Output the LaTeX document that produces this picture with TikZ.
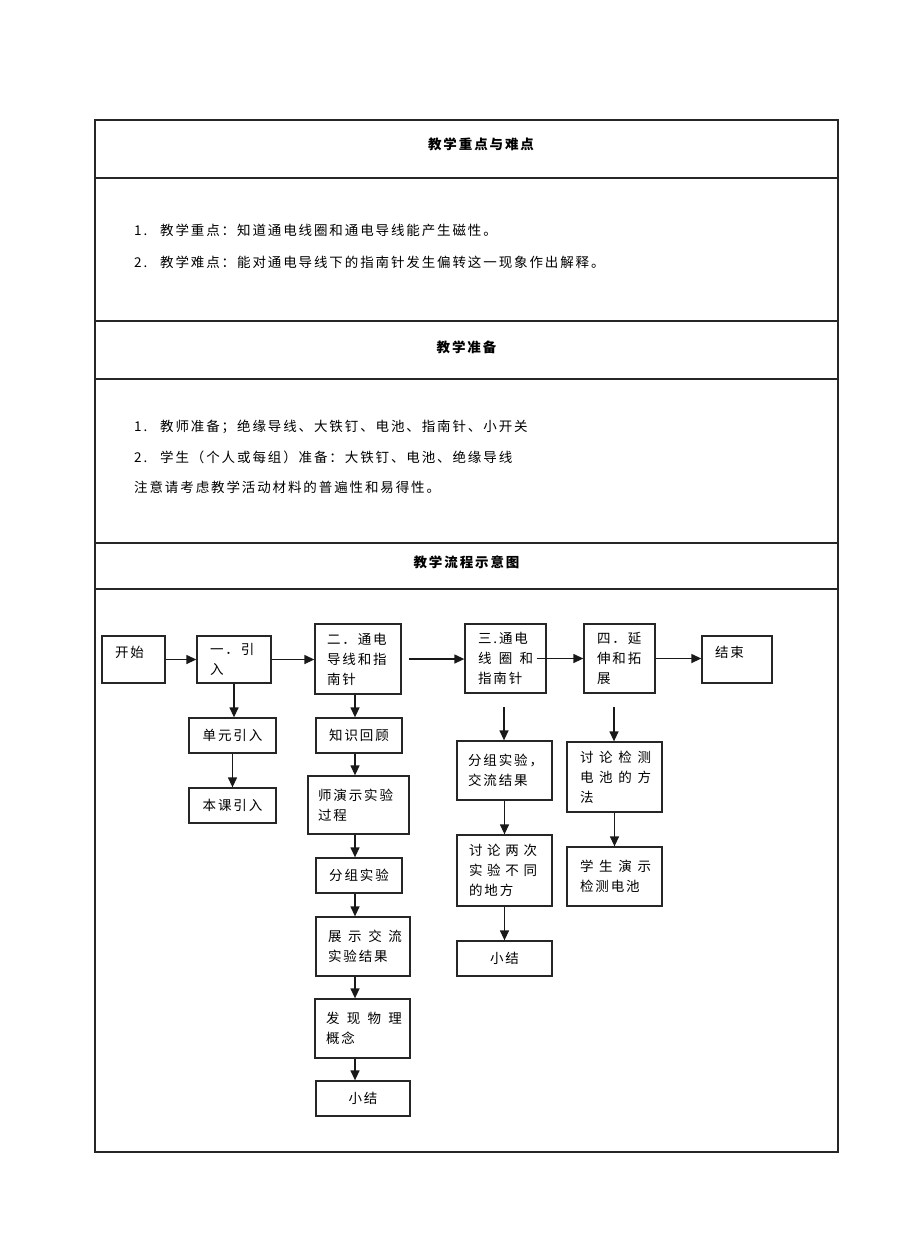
\documentclass[tikz,border=0pt]{standalone}
\usepackage{fontspec}
\newfontfamily\cjk{Noto Sans CJK SC}[LetterSpace=14]
\usetikzlibrary{arrows.meta}
\newcommand{\spread}[2]{\makebox[#1][l]{#2}}

\begin{document}
\begin{tikzpicture}[
    x=1pt, y=-1pt,
    >={Triangle[length=10pt,width=9pt]},
    flowbox/.style={draw=black!85, line width=1.3pt, inner sep=0pt, align=center,
      font=\cjk\fontsize{13.5pt}{20pt}\selectfont},
    leftbox/.style={flowbox, align=left, text width=#1},
    bodytext/.style={anchor=west, inner sep=0pt, font=\cjk\fontsize{13.5pt}{16pt}\selectfont},
    headtext/.style={inner sep=0pt, font=\cjk\bfseries\fontsize{13.5pt}{16pt}\selectfont},
    link/.style={->, line width=1.3pt, draw=black!90}
  ]
  \useasboundingbox (0,0) rectangle (920,1240);

  % table frame
  \draw[line width=1.4pt, black!85] (95,120) rectangle (838,1152);
  \foreach \y in {178,321,379,543,589}
    \draw[line width=1.4pt, black!85] (95,\y) -- (838,\y);

  % headings and text
  \node[headtext] (head1) at (481,144) {教学重点与难点};
  \node[headtext] (head2) at (466.5,347) {教学准备};
  \node[headtext] (head3) at (466.5,562) {教学流程示意图};

  \node[bodytext] (key1) at (134,230) {\makebox[26pt][l]{1.}教学重点：知道通电线圈和通电导线能产生磁性。};
  \node[bodytext] (key2) at (134,262) {\makebox[26pt][l]{2.}教学难点：能对通电导线下的指南针发生偏转这一现象作出解释。};
  \node[bodytext] (prep1) at (134,427) {\makebox[26pt][l]{1.}教师准备；绝缘导线、大铁钉、电池、指南针、小开关};
  \node[bodytext] (prep2) at (134,457) {\makebox[26pt][l]{2.}学生（个人或每组）准备：大铁钉、电池、绝缘导线};
  \node[bodytext] (prep3) at (134,487) {注意请考虑教学活动材料的普遍性和易得性。};

  % main row
  \node[leftbox=37pt, minimum width=63pt, minimum height=47pt, text height=11pt, text depth=16pt] (start) at (133.5,659.5) {开始};
  \node[leftbox=48pt, minimum width=74pt, minimum height=47pt] (intro) at (234,659.5) {一．引\\入};
  \node[leftbox=62pt, minimum width=86pt, minimum height=70pt] (wire) at (358,659) {二．通电\\导线和指\\南针};
  \node[leftbox=55pt, minimum width=81pt, minimum height=69pt] (coil) at (505.5,658.5) {三.通电\\\spread{55pt}{线\hfill 圈\hfill 和}\\指南针};
  \node[leftbox=45pt, minimum width=71pt, minimum height=69pt] (extend) at (619.5,658.5) {四．延\\伸和拓\\展};
  \node[leftbox=44pt, minimum width=70pt, minimum height=47pt, text height=11pt, text depth=16pt] (finish) at (737,659.5) {结束};

  % column one
  \node[flowbox, minimum width=87pt, minimum height=35pt] (unit) at (232.5,735.5) {单元引入};
  \node[flowbox, minimum width=87pt, minimum height=35pt] (lesson) at (232.5,805.5) {本课引入};

  % column two
  \node[flowbox, minimum width=86pt, minimum height=35pt] (review) at (359,735.5) {知识回顾};
  \node[leftbox=81pt, minimum width=101pt, minimum height=58pt] (demo) at (358.5,805) {师演示实验\\过程};
  \node[flowbox, minimum width=86pt, minimum height=35pt] (group2) at (359,875.5) {分组实验};
  \node[leftbox=70pt, minimum width=94pt, minimum height=59pt] (show) at (363,946.5) {\spread{74pt}{展\hfill 示\hfill 交\hfill 流}\\实验结果};
  \node[leftbox=73pt, minimum width=95pt, minimum height=59pt] (concept) at (362.5,1028.5) {\spread{76pt}{发\hfill 现\hfill 物\hfill 理}\\概念};
  \node[flowbox, minimum width=94pt, minimum height=35pt] (sum2) at (363,1098.5) {小结};

  % column three
  \node[leftbox=73pt, minimum width=95pt, minimum height=59pt] (share) at (504.5,770.5) {分组实验，\\交流结果};
  \node[leftbox=71pt, minimum width=95pt, minimum height=71pt] (diff) at (504.5,870.5) {\spread{68pt}{讨\hfill 论\hfill 两\hfill 次}\\\spread{68pt}{实\hfill 验\hfill 不\hfill 同}\\的地方};
  \node[flowbox, minimum width=95pt, minimum height=35pt] (sum3) at (504.5,958.5) {小结};

  % column four
  \node[leftbox=69pt, minimum width=95pt, minimum height=70pt] (method) at (614.5,777) {\spread{71pt}{讨\hfill 论\hfill 检\hfill 测}\\\spread{71pt}{电\hfill 池\hfill 的\hfill 方}\\法};
  \node[leftbox=69pt, minimum width=95pt, minimum height=59pt] (test) at (614.5,876.5) {\spread{71pt}{学\hfill 生\hfill 演\hfill 示}\\检测电池};

  % free ends
  \coordinate (colB) at (355,0);
  \coordinate (c2out) at (409,659);
  \coordinate (c3top) at (504,707);
  \coordinate (c4top) at (614,707);

  % arrows
  \draw[link] (start) -- (intro);
  \draw[link] (intro.east) -- (intro.east -| wire.west);
  \draw[link] (c2out) -- (c2out -| coil.west);
  \draw[link] ([xshift=-10pt]coil.east) -- (coil.east -| extend.west);
  \draw[link] (extend.east) -- (extend.east -| finish.west);

  \draw[link] (intro.south) -- (intro.south |- unit.north);
  \draw[link] (unit) -- (lesson);

  \foreach \a/\b in {wire/review, review/demo, demo/group2, group2/show, show/concept, concept/sum2}
    \draw[link] (\a.south -| colB) -- (\b.north -| colB);

  \draw[link] (c3top) -- (c3top |- share.north);
  \draw[link] (share) -- (diff);
  \draw[link] (diff) -- (sum3);

  \draw[link] (c4top) -- (c4top |- method.north);
  \draw[link] (method) -- (test);
\end{tikzpicture}
\end{document}
